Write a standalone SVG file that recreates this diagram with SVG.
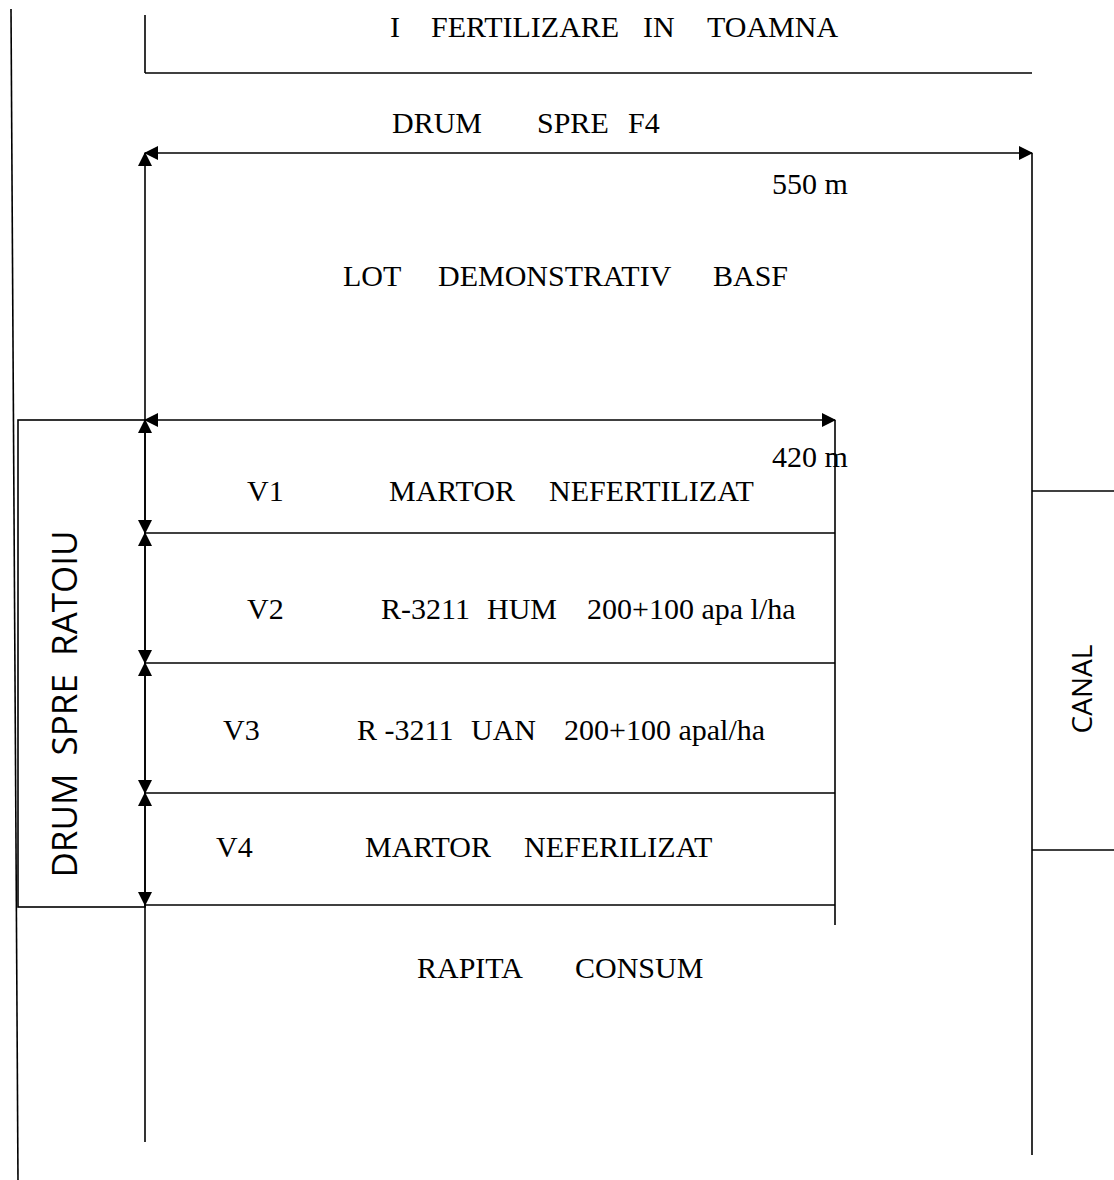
<svg xmlns="http://www.w3.org/2000/svg" width="1114" height="1180" viewBox="0 0 1114 1180">
<defs>
<marker id="ah" markerUnits="userSpaceOnUse" markerWidth="14" markerHeight="14" refX="13" refY="7" orient="auto-start-reverse" viewBox="0 0 14 14">
<path d="M0,0 L14,7 L0,14 z" fill="#000"/>
</marker>
<style>
.ln{stroke:#000;stroke-width:1.6;fill:none}
.t{font-family:"Liberation Serif","Times New Roman",serif;font-size:30px;fill:#000}
.s{font-family:"Open Sans","Noto Sans",sans-serif;fill:#000}
</style>
</defs>
<rect width="1114" height="1180" fill="#fff"/>
<g id="connectors">
<line class="ln" x1="11" y1="9" x2="18" y2="1180"/>
<line class="ln" x1="145" y1="15" x2="145" y2="73"/>
<line class="ln" x1="145" y1="73" x2="1032" y2="73"/>
<line class="ln" x1="145" y1="153" x2="1032" y2="153" marker-start="url(#ah)" marker-end="url(#ah)"/>
<line class="ln" x1="145" y1="153" x2="145" y2="420" marker-start="url(#ah)"/>
<line class="ln" x1="145" y1="905" x2="145" y2="1142"/>
<line class="ln" x1="1032" y1="153" x2="1032" y2="1155"/>
<line class="ln" x1="1032" y1="491" x2="1114" y2="491"/>
<line class="ln" x1="1032" y1="850" x2="1114" y2="850"/>
<line class="ln" x1="145" y1="420" x2="835" y2="420" marker-start="url(#ah)" marker-end="url(#ah)"/>
<line class="ln" x1="835" y1="420" x2="835" y2="925"/>
<line class="ln" x1="145" y1="533" x2="835" y2="533"/>
<line class="ln" x1="145" y1="663" x2="835" y2="663"/>
<line class="ln" x1="145" y1="793" x2="835" y2="793"/>
<line class="ln" x1="145" y1="905" x2="835" y2="905"/>
<line class="ln" x1="145" y1="420" x2="145" y2="533" marker-start="url(#ah)" marker-end="url(#ah)"/>
<line class="ln" x1="145" y1="533" x2="145" y2="663" marker-start="url(#ah)" marker-end="url(#ah)"/>
<line class="ln" x1="145" y1="663" x2="145" y2="793" marker-start="url(#ah)" marker-end="url(#ah)"/>
<line class="ln" x1="145" y1="793" x2="145" y2="905" marker-start="url(#ah)" marker-end="url(#ah)"/>
</g>
<g id="drum-ratoiu">
<rect class="ln" x="18" y="420" width="127" height="487"/>
<text class="s" font-size="35" text-anchor="middle" transform="translate(77,704) rotate(-90)" style="white-space:pre">DRUM  SPRE  RATOIU</text>
</g>
<g id="canal">
<text class="s" font-size="28" text-anchor="middle" transform="translate(1092,689) rotate(-90)">CANAL</text>
</g>
<g id="title">
<text class="t" y="37"><tspan x="390">I</tspan><tspan x="431">FERTILIZARE</tspan><tspan x="643">IN</tspan><tspan x="707">TOAMNA</tspan></text>
</g>
<g id="drum-f4">
<text class="t" y="133"><tspan x="392">DRUM</tspan><tspan x="537">SPRE</tspan><tspan x="628">F4</tspan></text>
<text class="t" x="772" y="194">550 m</text>
</g>
<g id="lot">
<text class="t" y="286"><tspan x="343">LOT</tspan><tspan x="438">DEMONSTRATIV</tspan><tspan x="713">BASF</tspan></text>
<text class="t" x="772" y="467">420 m</text>
</g>
<g id="v1">
<text class="t" y="501"><tspan x="247">V1</tspan><tspan x="389">MARTOR</tspan><tspan x="549">NEFERTILIZAT</tspan></text>
</g>
<g id="v2">
<text class="t" y="619"><tspan x="247">V2</tspan><tspan x="381">R-3211</tspan><tspan x="487">HUM</tspan><tspan x="587">200+100 apa l/ha</tspan></text>
</g>
<g id="v3">
<text class="t" y="740"><tspan x="223">V3</tspan><tspan x="357">R -3211</tspan><tspan x="471">UAN</tspan><tspan x="564">200+100 apal/ha</tspan></text>
</g>
<g id="v4">
<text class="t" y="857"><tspan x="216">V4</tspan><tspan x="365">MARTOR</tspan><tspan x="524">NEFERILIZAT</tspan></text>
</g>
<g id="rapita">
<text class="t" y="978"><tspan x="417">RAPITA</tspan><tspan x="575">CONSUM</tspan></text>
</g>
</svg>
